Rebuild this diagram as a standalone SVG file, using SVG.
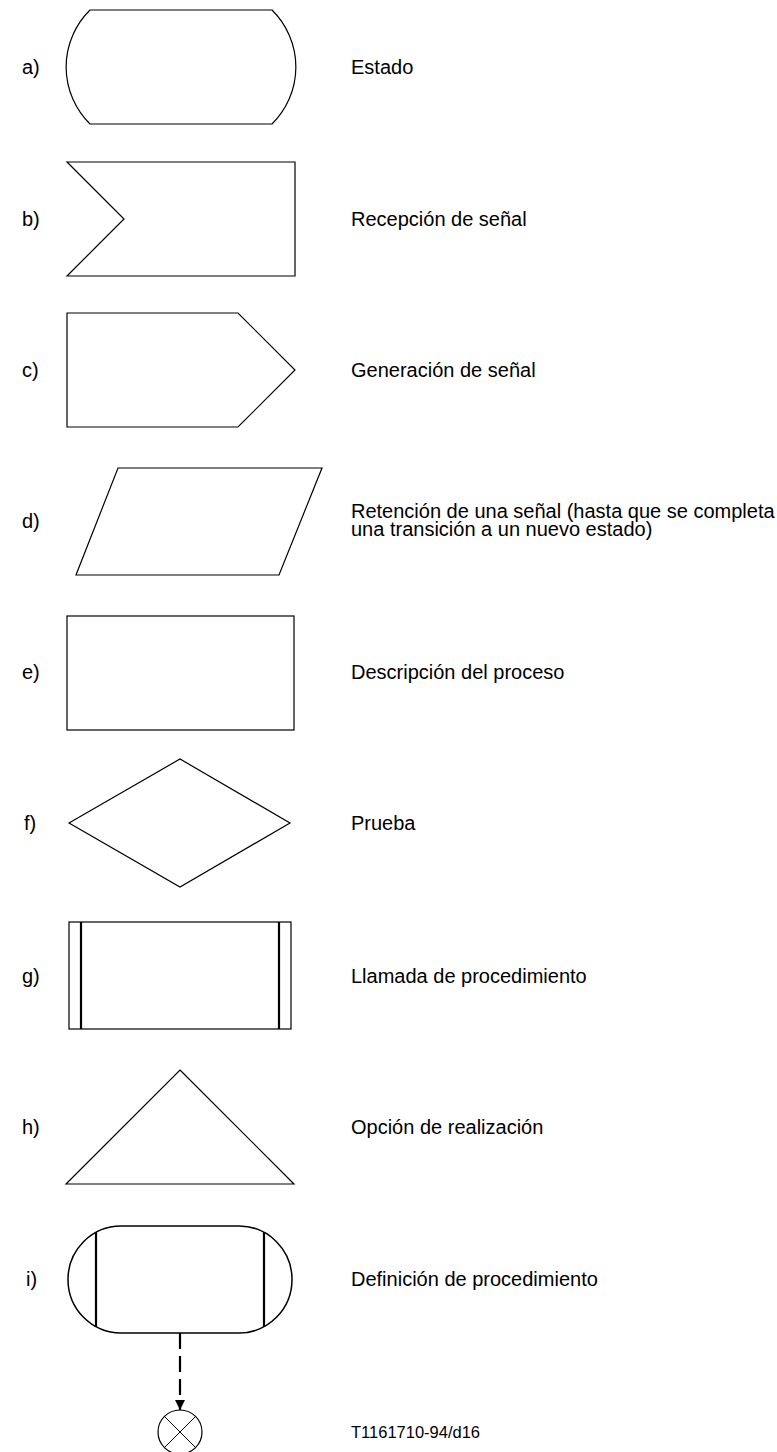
<svg xmlns="http://www.w3.org/2000/svg" width="777" height="1452" viewBox="0 0 777 1452">
<defs>
<style>
.s{fill:#fff;stroke:#000;stroke-width:1.2}
.t{font-family:"Liberation Sans",Arial,sans-serif;font-size:20px;fill:#000}
.f{font-family:"Liberation Sans",Arial,sans-serif;font-size:16.5px;fill:#000}
.b{stroke:#000;stroke-width:2.2;fill:none}
</style>
<marker id="ah" markerWidth="10" markerHeight="10" refX="10" refY="5" orient="auto" markerUnits="userSpaceOnUse">
<path d="M0,0 L10,5 L0,10 Z" fill="#000"/>
</marker>
</defs>
<rect width="777" height="1452" fill="#fff"/>
<g id="a">
<text class="t" x="22" y="74">a)</text>
<path class="s" d="M90,10 H272 A80,80 0 0 1 272,124 H90 A80,80 0 0 1 90,10 Z"/>
<text class="t" x="351" y="74">Estado</text>
</g>
<g id="b">
<text class="t" x="22" y="226">b)</text>
<path class="s" d="M67,162 H295 V276 H67 L124,219 Z"/>
<text class="t" x="351" y="226">Recepción de señal</text>
</g>
<g id="c">
<text class="t" x="22" y="377">c)</text>
<path class="s" d="M67,313 H238 L295,370 L238,427 H67 Z"/>
<text class="t" x="351" y="377">Generación de señal</text>
</g>
<g id="d">
<text class="t" x="22" y="528">d)</text>
<path class="s" d="M118,468 H322 L279,575 H76 Z"/>
<text class="t" x="351" y="518">Retención de una señal (hasta que se completa</text>
<text class="t" x="351" y="536">una transición a un nuevo estado)</text>
</g>
<g id="e">
<text class="t" x="22" y="679">e)</text>
<rect class="s" x="67" y="616" width="227" height="114"/>
<text class="t" x="351" y="679">Descripción del proceso</text>
</g>
<g id="f">
<text class="t" x="24" y="830">f)</text>
<path class="s" d="M69,823 L180,759 L290,823 L180,887 Z"/>
<text class="t" x="351" y="830">Prueba</text>
</g>
<g id="g">
<text class="t" x="22" y="983">g)</text>
<rect class="s" x="69" y="922" width="222" height="107"/>
<line class="b" x1="81" y1="922" x2="81" y2="1029"/>
<line class="b" x1="279" y1="922" x2="279" y2="1029"/>
<text class="t" x="351" y="983">Llamada de procedimiento</text>
</g>
<g id="h">
<text class="t" x="22" y="1134">h)</text>
<path class="s" d="M180,1070 L294,1184 H66 Z"/>
<text class="t" x="351" y="1134">Opción de realización</text>
</g>
<g id="i">
<text class="t" x="26" y="1286">i)</text>
<rect x="68" y="1226" width="224" height="107" rx="53" ry="53.5" fill="#fff" stroke="#000" stroke-width="1.5"/>
<line class="b" x1="96" y1="1232" x2="96" y2="1327"/>
<line class="b" x1="264" y1="1232" x2="264" y2="1327"/>
<text class="t" x="351" y="1286">Definición de procedimiento</text>
</g>
<g id="connectors">
<line x1="180" y1="1333" x2="180" y2="1410" stroke="#000" stroke-width="2.2" stroke-dasharray="16,7" marker-end="url(#ah)"/>
</g>
<g id="end">
<circle cx="180" cy="1432" r="22" fill="#fff" stroke="#000" stroke-width="1.2"/>
<line x1="164.4" y1="1416.4" x2="195.6" y2="1447.6" stroke="#000" stroke-width="1"/>
<line x1="195.6" y1="1416.4" x2="164.4" y2="1447.6" stroke="#000" stroke-width="1"/>
</g>
<text class="f" x="351" y="1438">T1161710-94/d16</text>
</svg>
